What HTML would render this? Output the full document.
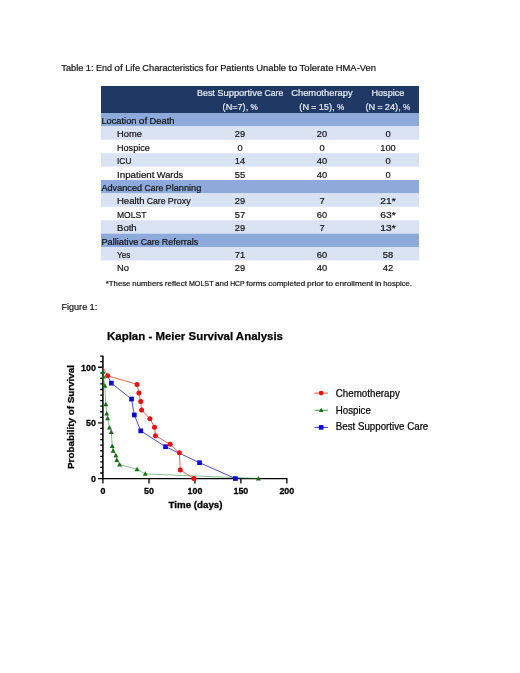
<!DOCTYPE html>
<html lang="en"><head><meta charset="utf-8"><title>Table 1 and Figure 1</title>
<style>
html,body{margin:0;padding:0;background:#fff;}
body{width:520px;height:673px;overflow:hidden;}
svg{display:block;font-family:"Liberation Sans",sans-serif;}
</style></head><body>
<svg width="520" height="673" viewBox="0 0 520 673">
<rect width="520" height="673" fill="#fff"/>
<text y="71" font-size="9.3" fill="#111" stroke="#111" stroke-width="0.2"><tspan x="61.30" textLength="22.12" lengthAdjust="spacingAndGlyphs">Table</tspan> <tspan x="85.75" textLength="8.00" lengthAdjust="spacingAndGlyphs">1:</tspan> <tspan x="96.09" textLength="15.90" lengthAdjust="spacingAndGlyphs">End</tspan> <tspan x="114.32" textLength="8.60" lengthAdjust="spacingAndGlyphs">of</tspan> <tspan x="125.26" textLength="14.75" lengthAdjust="spacingAndGlyphs">Life</tspan> <tspan x="142.35" textLength="61.15" lengthAdjust="spacingAndGlyphs">Characteristics</tspan> <tspan x="205.83" textLength="11.99" lengthAdjust="spacingAndGlyphs">for</tspan> <tspan x="220.15" textLength="33.70" lengthAdjust="spacingAndGlyphs">Patients</tspan> <tspan x="256.18" textLength="29.94" lengthAdjust="spacingAndGlyphs">Unable</tspan> <tspan x="288.46" textLength="8.81" lengthAdjust="spacingAndGlyphs">to</tspan> <tspan x="299.61" textLength="33.81" lengthAdjust="spacingAndGlyphs">Tolerate</tspan> <tspan x="335.75" textLength="40.25" lengthAdjust="spacingAndGlyphs">HMA-Ven</tspan></text>
<rect x="101" y="86" width="318" height="27" fill="#1F3864"/>
<rect x="101" y="113.00" width="318" height="13.4" fill="#8EAADB"/>
<text y="123.9" font-size="9.3" fill="#111" stroke="#111" stroke-width="0.2"><tspan x="101.40" textLength="35.11" lengthAdjust="spacingAndGlyphs">Location</tspan> <tspan x="138.81" textLength="8.49" lengthAdjust="spacingAndGlyphs">of</tspan> <tspan x="149.61" textLength="24.92" lengthAdjust="spacingAndGlyphs">Death</tspan></text>
<rect x="101" y="126.40" width="318" height="13.4" fill="#D9E2F3"/>
<text y="137.3" font-size="9.3" fill="#111" stroke="#111" stroke-width="0.2"><tspan x="117.00" textLength="24.96" lengthAdjust="spacingAndGlyphs">Home</tspan></text>
<text y="137.3" font-size="9.3" fill="#111" stroke="#111" stroke-width="0.2"><tspan x="234.83" textLength="10.34" lengthAdjust="spacingAndGlyphs">29</tspan></text>
<text y="137.3" font-size="9.3" fill="#111" stroke="#111" stroke-width="0.2"><tspan x="316.83" textLength="10.34" lengthAdjust="spacingAndGlyphs">20</tspan></text>
<text y="137.3" font-size="9.3" fill="#111" stroke="#111" stroke-width="0.2"><tspan x="385.42" textLength="5.17" lengthAdjust="spacingAndGlyphs">0</tspan></text>
<text y="150.7" font-size="9.3" fill="#111" stroke="#111" stroke-width="0.2"><tspan x="117.00" textLength="32.81" lengthAdjust="spacingAndGlyphs">Hospice</tspan></text>
<text y="150.7" font-size="9.3" fill="#111" stroke="#111" stroke-width="0.2"><tspan x="237.42" textLength="5.17" lengthAdjust="spacingAndGlyphs">0</tspan></text>
<text y="150.7" font-size="9.3" fill="#111" stroke="#111" stroke-width="0.2"><tspan x="319.42" textLength="5.17" lengthAdjust="spacingAndGlyphs">0</tspan></text>
<text y="150.7" font-size="9.3" fill="#111" stroke="#111" stroke-width="0.2"><tspan x="380.25" textLength="15.51" lengthAdjust="spacingAndGlyphs">100</tspan></text>
<rect x="101" y="153.20" width="318" height="13.4" fill="#D9E2F3"/>
<text y="164.1" font-size="9.3" fill="#111" stroke="#111" stroke-width="0.2"><tspan x="117.00" textLength="14.55" lengthAdjust="spacingAndGlyphs">ICU</tspan></text>
<text y="164.1" font-size="9.3" fill="#111" stroke="#111" stroke-width="0.2"><tspan x="234.83" textLength="10.34" lengthAdjust="spacingAndGlyphs">14</tspan></text>
<text y="164.1" font-size="9.3" fill="#111" stroke="#111" stroke-width="0.2"><tspan x="316.83" textLength="10.34" lengthAdjust="spacingAndGlyphs">40</tspan></text>
<text y="164.1" font-size="9.3" fill="#111" stroke="#111" stroke-width="0.2"><tspan x="385.42" textLength="5.17" lengthAdjust="spacingAndGlyphs">0</tspan></text>
<text y="177.5" font-size="9.3" fill="#111" stroke="#111" stroke-width="0.2"><tspan x="117.00" textLength="37.52" lengthAdjust="spacingAndGlyphs">Inpatient</tspan> <tspan x="156.82" textLength="26.37" lengthAdjust="spacingAndGlyphs">Wards</tspan></text>
<text y="177.5" font-size="9.3" fill="#111" stroke="#111" stroke-width="0.2"><tspan x="234.83" textLength="10.34" lengthAdjust="spacingAndGlyphs">55</tspan></text>
<text y="177.5" font-size="9.3" fill="#111" stroke="#111" stroke-width="0.2"><tspan x="316.83" textLength="10.34" lengthAdjust="spacingAndGlyphs">40</tspan></text>
<text y="177.5" font-size="9.3" fill="#111" stroke="#111" stroke-width="0.2"><tspan x="385.42" textLength="5.17" lengthAdjust="spacingAndGlyphs">0</tspan></text>
<rect x="101" y="180.00" width="318" height="13.4" fill="#8EAADB"/>
<text y="190.9" font-size="9.3" fill="#111" stroke="#111" stroke-width="0.2"><tspan x="101.40" textLength="40.71" lengthAdjust="spacingAndGlyphs">Advanced</tspan> <tspan x="144.42" textLength="18.82" lengthAdjust="spacingAndGlyphs">Care</tspan> <tspan x="165.54" textLength="35.71" lengthAdjust="spacingAndGlyphs">Planning</tspan></text>
<rect x="101" y="193.40" width="318" height="13.4" fill="#D9E2F3"/>
<text y="204.3" font-size="9.3" fill="#111" stroke="#111" stroke-width="0.2"><tspan x="117.00" textLength="27.43" lengthAdjust="spacingAndGlyphs">Health</tspan> <tspan x="146.74" textLength="18.82" lengthAdjust="spacingAndGlyphs">Care</tspan> <tspan x="167.87" textLength="22.88" lengthAdjust="spacingAndGlyphs">Proxy</tspan></text>
<text y="204.3" font-size="9.3" fill="#111" stroke="#111" stroke-width="0.2"><tspan x="234.83" textLength="10.34" lengthAdjust="spacingAndGlyphs">29</tspan></text>
<text y="204.3" font-size="9.3" fill="#111" stroke="#111" stroke-width="0.2"><tspan x="319.42" textLength="5.17" lengthAdjust="spacingAndGlyphs">7</tspan></text>
<text y="204.3" font-size="9.3" fill="#111" stroke="#111" stroke-width="0.2"><tspan x="380.29" textLength="15.42" lengthAdjust="spacingAndGlyphs">21*</tspan></text>
<text y="217.7" font-size="9.3" fill="#111" stroke="#111" stroke-width="0.2"><tspan x="117.00" textLength="29.35" lengthAdjust="spacingAndGlyphs">MOLST</tspan></text>
<text y="217.7" font-size="9.3" fill="#111" stroke="#111" stroke-width="0.2"><tspan x="234.83" textLength="10.34" lengthAdjust="spacingAndGlyphs">57</tspan></text>
<text y="217.7" font-size="9.3" fill="#111" stroke="#111" stroke-width="0.2"><tspan x="316.83" textLength="10.34" lengthAdjust="spacingAndGlyphs">60</tspan></text>
<text y="217.7" font-size="9.3" fill="#111" stroke="#111" stroke-width="0.2"><tspan x="380.29" textLength="15.42" lengthAdjust="spacingAndGlyphs">63*</tspan></text>
<rect x="101" y="220.20" width="318" height="13.4" fill="#D9E2F3"/>
<text y="231.1" font-size="9.3" fill="#111" stroke="#111" stroke-width="0.2"><tspan x="117.00" textLength="19.70" lengthAdjust="spacingAndGlyphs">Both</tspan></text>
<text y="231.1" font-size="9.3" fill="#111" stroke="#111" stroke-width="0.2"><tspan x="234.83" textLength="10.34" lengthAdjust="spacingAndGlyphs">29</tspan></text>
<text y="231.1" font-size="9.3" fill="#111" stroke="#111" stroke-width="0.2"><tspan x="319.42" textLength="5.17" lengthAdjust="spacingAndGlyphs">7</tspan></text>
<text y="231.1" font-size="9.3" fill="#111" stroke="#111" stroke-width="0.2"><tspan x="380.29" textLength="15.42" lengthAdjust="spacingAndGlyphs">13*</tspan></text>
<rect x="101" y="233.60" width="318" height="13.4" fill="#8EAADB"/>
<text y="244.5" font-size="9.3" fill="#111" stroke="#111" stroke-width="0.2"><tspan x="101.40" textLength="37.02" lengthAdjust="spacingAndGlyphs">Palliative</tspan> <tspan x="140.72" textLength="18.82" lengthAdjust="spacingAndGlyphs">Care</tspan> <tspan x="161.85" textLength="36.40" lengthAdjust="spacingAndGlyphs">Referrals</tspan></text>
<rect x="101" y="247.00" width="318" height="13.4" fill="#D9E2F3"/>
<text y="257.9" font-size="9.3" fill="#111" stroke="#111" stroke-width="0.2"><tspan x="117.00" textLength="13.30" lengthAdjust="spacingAndGlyphs">Yes</tspan></text>
<text y="257.9" font-size="9.3" fill="#111" stroke="#111" stroke-width="0.2"><tspan x="234.83" textLength="10.34" lengthAdjust="spacingAndGlyphs">71</tspan></text>
<text y="257.9" font-size="9.3" fill="#111" stroke="#111" stroke-width="0.2"><tspan x="316.83" textLength="10.34" lengthAdjust="spacingAndGlyphs">60</tspan></text>
<text y="257.9" font-size="9.3" fill="#111" stroke="#111" stroke-width="0.2"><tspan x="382.83" textLength="10.34" lengthAdjust="spacingAndGlyphs">58</tspan></text>
<text y="271.3" font-size="9.3" fill="#111" stroke="#111" stroke-width="0.2"><tspan x="117.00" textLength="11.96" lengthAdjust="spacingAndGlyphs">No</tspan></text>
<text y="271.3" font-size="9.3" fill="#111" stroke="#111" stroke-width="0.2"><tspan x="234.83" textLength="10.34" lengthAdjust="spacingAndGlyphs">29</tspan></text>
<text y="271.3" font-size="9.3" fill="#111" stroke="#111" stroke-width="0.2"><tspan x="316.83" textLength="10.34" lengthAdjust="spacingAndGlyphs">40</tspan></text>
<text y="271.3" font-size="9.3" fill="#111" stroke="#111" stroke-width="0.2"><tspan x="382.83" textLength="10.34" lengthAdjust="spacingAndGlyphs">42</tspan></text>
<text y="96" font-size="9.3" fill="#E9EDF5" stroke="#E9EDF5" stroke-width="0.2"><tspan x="196.94" textLength="17.91" lengthAdjust="spacingAndGlyphs">Best</tspan> <tspan x="217.16" textLength="44.96" lengthAdjust="spacingAndGlyphs">Supportive</tspan> <tspan x="264.43" textLength="18.82" lengthAdjust="spacingAndGlyphs">Care</tspan></text>
<text y="96" font-size="9.3" fill="#E9EDF5" stroke="#E9EDF5" stroke-width="0.2"><tspan x="291.20" textLength="61.41" lengthAdjust="spacingAndGlyphs">Chemotherapy</tspan></text>
<text y="96" font-size="9.3" fill="#E9EDF5" stroke="#E9EDF5" stroke-width="0.2"><tspan x="371.49" textLength="32.81" lengthAdjust="spacingAndGlyphs">Hospice</tspan></text>
<text y="110" font-size="9.3" fill="#E9EDF5" stroke="#E9EDF5" stroke-width="0.2"><tspan x="222.62" textLength="25.56" lengthAdjust="spacingAndGlyphs">(N=7),</tspan> <tspan x="250.49" textLength="7.29" lengthAdjust="spacingAndGlyphs">%</tspan></text>
<text y="110" font-size="9.3" fill="#E9EDF5" stroke="#E9EDF5" stroke-width="0.2"><tspan x="299.33" textLength="9.68" lengthAdjust="spacingAndGlyphs">(N</tspan> <tspan x="311.31" textLength="5.08" lengthAdjust="spacingAndGlyphs">=</tspan> <tspan x="318.70" textLength="15.98" lengthAdjust="spacingAndGlyphs">15),</tspan> <tspan x="336.98" textLength="7.29" lengthAdjust="spacingAndGlyphs">%</tspan></text>
<text y="110" font-size="9.3" fill="#E9EDF5" stroke="#E9EDF5" stroke-width="0.2"><tspan x="365.43" textLength="9.68" lengthAdjust="spacingAndGlyphs">(N</tspan> <tspan x="377.41" textLength="5.08" lengthAdjust="spacingAndGlyphs">=</tspan> <tspan x="384.80" textLength="15.98" lengthAdjust="spacingAndGlyphs">24),</tspan> <tspan x="403.08" textLength="7.29" lengthAdjust="spacingAndGlyphs">%</tspan></text>
<text y="285.7" font-size="7.8" fill="#111" stroke="#111" stroke-width="0.2"><tspan x="105.80" textLength="24.62" lengthAdjust="spacingAndGlyphs">*These</tspan> <tspan x="132.34" textLength="30.56" lengthAdjust="spacingAndGlyphs">numbers</tspan> <tspan x="164.82" textLength="22.17" lengthAdjust="spacingAndGlyphs">reflect</tspan> <tspan x="188.92" textLength="24.46" lengthAdjust="spacingAndGlyphs">MOLST</tspan> <tspan x="215.29" textLength="13.00" lengthAdjust="spacingAndGlyphs">and</tspan> <tspan x="230.22" textLength="14.22" lengthAdjust="spacingAndGlyphs">HCP</tspan> <tspan x="246.36" textLength="19.97" lengthAdjust="spacingAndGlyphs">forms</tspan> <tspan x="268.25" textLength="36.84" lengthAdjust="spacingAndGlyphs">completed</tspan> <tspan x="307.02" textLength="16.82" lengthAdjust="spacingAndGlyphs">prior</tspan> <tspan x="325.76" textLength="7.25" lengthAdjust="spacingAndGlyphs">to</tspan> <tspan x="334.93" textLength="38.16" lengthAdjust="spacingAndGlyphs">enrollment</tspan> <tspan x="375.01" textLength="6.42" lengthAdjust="spacingAndGlyphs">in</tspan> <tspan x="383.34" textLength="28.66" lengthAdjust="spacingAndGlyphs">hospice.</tspan></text>
<text y="309.5" font-size="9.3" fill="#111" stroke="#111" stroke-width="0.2"><tspan x="61.50" textLength="25.68" lengthAdjust="spacingAndGlyphs">Figure</tspan> <tspan x="89.49" textLength="7.90" lengthAdjust="spacingAndGlyphs">1:</tspan></text>
<text x="107" y="339.5" font-size="11.8" text-anchor="start" font-weight="bold" fill="#000" textLength="176" lengthAdjust="spacingAndGlyphs" stroke="#000" stroke-width="0.25">Kaplan - Meier Survival Analysis</text>
<path d="M102.9 355.82V479.20" fill="none" stroke="#000" stroke-width="1.55"/>
<path d="M102.05 478.6H287.40" fill="none" stroke="#000" stroke-width="1.2"/>
<path d="M98.10 478.60H102.9M100.20 472.99H102.9M100.20 467.42H102.9M100.20 461.86H102.9M100.20 456.29H102.9M100.20 450.73H102.9M100.20 445.16H102.9M100.20 439.60H102.9M100.20 434.03H102.9M100.20 428.47H102.9M98.10 422.90H102.9M100.20 417.34H102.9M100.20 411.77H102.9M100.20 406.21H102.9M100.20 400.64H102.9M100.20 395.08H102.9M100.20 389.51H102.9M100.20 383.94H102.9M100.20 378.38H102.9M100.20 372.81H102.9M98.10 367.25H102.9M100.20 361.69H102.9M100.20 356.12H102.9M102.90 478.6V483.60M149.00 478.6V483.60M194.95 478.6V483.60M240.90 478.6V483.60M286.85 478.6V483.60" fill="none" stroke="#000" stroke-width="1.3"/>
<text x="95.9" y="482.0" font-size="9.8" text-anchor="end" font-weight="bold" fill="#000" textLength="4.95" lengthAdjust="spacingAndGlyphs" stroke="#000" stroke-width="0.3">0</text>
<text x="95.9" y="426.35" font-size="9.8" text-anchor="end" font-weight="bold" fill="#000" textLength="9.9" lengthAdjust="spacingAndGlyphs" stroke="#000" stroke-width="0.3">50</text>
<text x="95.9" y="370.7" font-size="9.8" text-anchor="end" font-weight="bold" fill="#000" textLength="14.85" lengthAdjust="spacingAndGlyphs" stroke="#000" stroke-width="0.3">100</text>
<text x="103.05" y="494.2" font-size="9.8" text-anchor="middle" font-weight="bold" fill="#000" textLength="4.95" lengthAdjust="spacingAndGlyphs" stroke="#000" stroke-width="0.3">0</text>
<text x="149.0" y="494.2" font-size="9.8" text-anchor="middle" font-weight="bold" fill="#000" textLength="9.9" lengthAdjust="spacingAndGlyphs" stroke="#000" stroke-width="0.3">50</text>
<text x="194.95" y="494.2" font-size="9.8" text-anchor="middle" font-weight="bold" fill="#000" textLength="14.85" lengthAdjust="spacingAndGlyphs" stroke="#000" stroke-width="0.3">100</text>
<text x="240.9" y="494.2" font-size="9.8" text-anchor="middle" font-weight="bold" fill="#000" textLength="14.85" lengthAdjust="spacingAndGlyphs" stroke="#000" stroke-width="0.3">150</text>
<text x="286.85" y="494.2" font-size="9.8" text-anchor="middle" font-weight="bold" fill="#000" textLength="14.85" lengthAdjust="spacingAndGlyphs" stroke="#000" stroke-width="0.3">200</text>
<text x="195.5" y="508.3" font-size="9.9" text-anchor="middle" font-weight="bold" fill="#000" textLength="54" lengthAdjust="spacingAndGlyphs" stroke="#000" stroke-width="0.3">Time (days)</text>
<text transform="translate(73.9 417) rotate(-90)" font-size="9.9" font-weight="bold" stroke="#000" stroke-width="0.3" text-anchor="middle" textLength="104" lengthAdjust="spacingAndGlyphs">Probability of Survival</text>
<path d="M103.05 367.25L103.05 371.89L103.42 376.52L104.89 385.80L105.81 404.35L106.73 413.62L107.64 418.26L109.48 427.54L111.32 432.18L112.24 446.09L113.16 450.73L115.92 455.36L116.83 460.00L119.59 464.64L137.05 469.28L145.32 473.91L258.36 478.55" fill="none" stroke="#2C8A2C" stroke-width="0.55" stroke-linejoin="round"/>
<path d="M103.05 369.29L105.52 373.84H100.58Z" fill="#176E17"/>
<path d="M103.42 373.92L105.89 378.47H100.95Z" fill="#176E17"/>
<path d="M104.89 383.20L107.36 387.75H102.42Z" fill="#176E17"/>
<path d="M105.81 401.75L108.28 406.30H103.34Z" fill="#176E17"/>
<path d="M106.73 411.02L109.20 415.57H104.26Z" fill="#176E17"/>
<path d="M107.64 415.66L110.11 420.21H105.17Z" fill="#176E17"/>
<path d="M109.48 424.94L111.95 429.49H107.01Z" fill="#176E17"/>
<path d="M111.32 429.57L113.79 434.12H108.85Z" fill="#176E17"/>
<path d="M112.24 443.49L114.71 448.04H109.77Z" fill="#176E17"/>
<path d="M113.16 448.12L115.63 452.68H110.69Z" fill="#176E17"/>
<path d="M115.92 452.76L118.39 457.31H113.45Z" fill="#176E17"/>
<path d="M116.83 457.40L119.30 461.95H114.36Z" fill="#176E17"/>
<path d="M119.59 462.04L122.06 466.59H117.12Z" fill="#176E17"/>
<path d="M137.05 466.68L139.52 471.23H134.58Z" fill="#176E17"/>
<path d="M145.32 471.31L147.79 475.86H142.85Z" fill="#176E17"/>
<path d="M258.36 475.95L260.83 480.50H255.89Z" fill="#176E17"/>
<path d="M107.64 376.04L111.32 383.15L131.54 399.05L134.30 414.95L140.73 430.85L165.54 446.75L199.55 462.65L235.39 478.55" fill="none" stroke="#2020D0" stroke-width="0.8" stroke-linejoin="round"/>
<rect x="108.97" y="380.80" width="4.7" height="4.7" fill="#0A0AD8"/>
<rect x="129.19" y="396.70" width="4.7" height="4.7" fill="#0A0AD8"/>
<rect x="131.95" y="412.60" width="4.7" height="4.7" fill="#0A0AD8"/>
<rect x="138.38" y="428.50" width="4.7" height="4.7" fill="#0A0AD8"/>
<rect x="163.19" y="444.40" width="4.7" height="4.7" fill="#0A0AD8"/>
<rect x="197.20" y="460.30" width="4.7" height="4.7" fill="#0A0AD8"/>
<rect x="233.04" y="476.20" width="4.7" height="4.7" fill="#0A0AD8"/>
<path d="M103.05 367.25L107.64 375.82L137.05 384.39L138.89 392.96L140.73 401.53L141.65 410.10L149.92 418.67L154.51 427.13L155.43 435.70L170.14 444.27L179.33 452.84L180.25 469.98L193.85 478.55" fill="none" stroke="#DC402A" stroke-width="0.8" stroke-linejoin="round"/>
<circle cx="107.64" cy="375.82" r="2.5" fill="#E81010"/>
<circle cx="137.05" cy="384.39" r="2.5" fill="#E81010"/>
<circle cx="138.89" cy="392.96" r="2.5" fill="#E81010"/>
<circle cx="140.73" cy="401.53" r="2.5" fill="#E81010"/>
<circle cx="141.65" cy="410.10" r="2.5" fill="#E81010"/>
<circle cx="149.92" cy="418.67" r="2.5" fill="#E81010"/>
<circle cx="154.51" cy="427.13" r="2.5" fill="#E81010"/>
<circle cx="155.43" cy="435.70" r="2.5" fill="#E81010"/>
<circle cx="170.14" cy="444.27" r="2.5" fill="#E81010"/>
<circle cx="179.33" cy="452.84" r="2.5" fill="#E81010"/>
<circle cx="180.25" cy="469.98" r="2.5" fill="#E81010"/>
<circle cx="193.85" cy="478.55" r="2.5" fill="#E81010"/>
<path d="M314.5 393.1H328" stroke="#DC402A" stroke-width="0.9"/>
<circle cx="321.2" cy="393.1" r="2.4" fill="#E81010"/>
<text x="335.8" y="396.5" font-size="10.1" text-anchor="start" font-weight="normal" fill="#000" textLength="64" lengthAdjust="spacingAndGlyphs" stroke="#000" stroke-width="0.22">Chemotherapy</text>
<path d="M314.5 410.2H328" stroke="#2C8A2C" stroke-width="0.9"/>
<path d="M321.2 407.70L323.57 412.07H318.82Z" fill="#176E17"/>
<text x="335.8" y="413.6" font-size="10.1" text-anchor="start" font-weight="normal" fill="#000" textLength="35" lengthAdjust="spacingAndGlyphs" stroke="#000" stroke-width="0.22">Hospice</text>
<path d="M314.5 427.4H328" stroke="#2020D0" stroke-width="0.9"/>
<rect x="318.90" y="425.10" width="4.6" height="4.6" fill="#0A0AD8"/>
<text x="335.8" y="430.3" font-size="10.1" text-anchor="start" font-weight="normal" fill="#000" textLength="92.5" lengthAdjust="spacingAndGlyphs" stroke="#000" stroke-width="0.22">Best Supportive Care</text>
</svg>
</body></html>
